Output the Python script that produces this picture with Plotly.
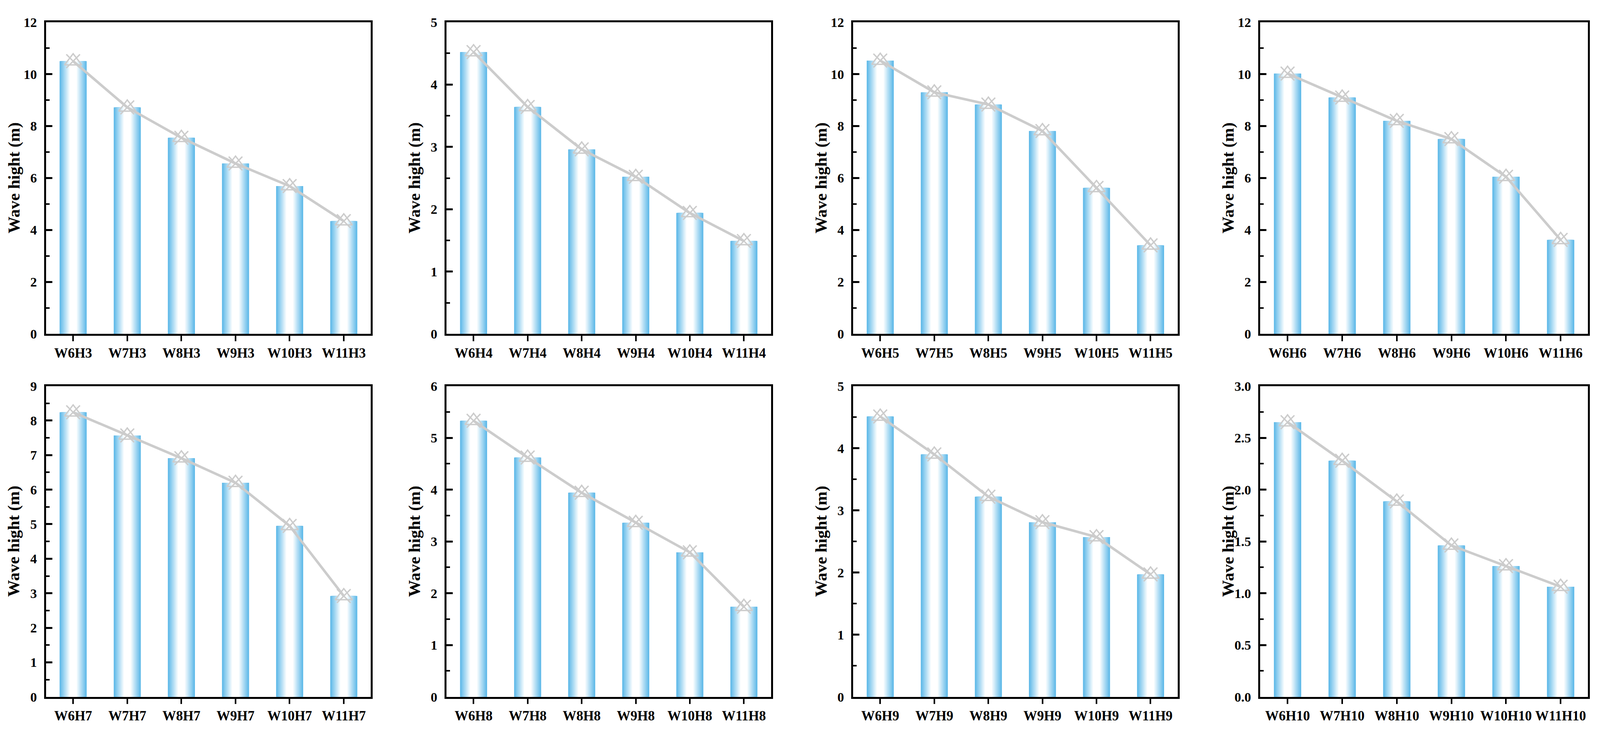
import plotly.graph_objects as go
from plotly.subplots import make_subplots

# ---------------- data ----------------
cats_H3 = ["W6H3", "W7H3", "W8H3", "W9H3", "W10H3", "W11H3"]
cats_H4 = ["W6H4", "W7H4", "W8H4", "W9H4", "W10H4", "W11H4"]
cats_H5 = ["W6H5", "W7H5", "W8H5", "W9H5", "W10H5", "W11H5"]
cats_H6 = ["W6H6", "W7H6", "W8H6", "W9H6", "W10H6", "W11H6"]
cats_H7 = ["W6H7", "W7H7", "W8H7", "W9H7", "W10H7", "W11H7"]
cats_H8 = ["W6H8", "W7H8", "W8H8", "W9H8", "W10H8", "W11H8"]
cats_H9 = ["W6H9", "W7H9", "W8H9", "W9H9", "W10H9", "W11H9"]
cats_H10 = ["W6H10", "W7H10", "W8H10", "W9H10", "W10H10", "W11H10"]

wave_H3 = [10.50, 8.72, 7.55, 6.56, 5.69, 4.34]
wave_H4 = [4.52, 3.64, 2.96, 2.52, 1.94, 1.49]
wave_H5 = [10.52, 9.30, 8.83, 7.81, 5.62, 3.41]
wave_H6 = [10.02, 9.10, 8.20, 7.50, 6.05, 3.62]
wave_H7 = [8.24, 7.57, 6.91, 6.20, 4.95, 2.92]
wave_H8 = [5.33, 4.62, 3.94, 3.36, 2.79, 1.74]
wave_H9 = [4.51, 3.90, 3.22, 2.81, 2.57, 1.97]
wave_H10 = [2.651, 2.279, 1.886, 1.461, 1.262, 1.063]

y_max = [12, 5, 12, 12, 9, 6, 5, 3.0]
y_dtick = [2, 1, 2, 2, 1, 1, 1, 0.5]
y_format = ["d", "d", "d", "d", "d", "d", "d", ".1f"]

y_title = "Wave hight (m)"

panels = [
    (cats_H3, wave_H3), (cats_H4, wave_H4), (cats_H5, wave_H5), (cats_H6, wave_H6),
    (cats_H7, wave_H7), (cats_H8, wave_H8), (cats_H9, wave_H9), (cats_H10, wave_H10),
]

# ---------------- style ----------------
W, H = 4375, 1888
FONT = "Liberation Serif"
BLUE = (92, 184, 232)
GREY = "#CCCCCC"
x_edges = [(126, 1014), (1221, 2108), (2333, 3220), (3446, 4342)]
y_edges = [(39.5, 853), (989, 1800)]

fig = make_subplots(rows=2, cols=4)

N_LAYERS = 26
BAR_W = 0.5


def blend(f):
    r = int(round(255 + (BLUE[0] - 255) * f))
    g = int(round(255 + (BLUE[1] - 255) * f))
    b = int(round(255 + (BLUE[2] - 255) * f))
    return f"rgb({r},{g},{b})"


for i, (cats, vals) in enumerate(panels):
    row, col = i // 4 + 1, i % 4 + 1
    # gradient bars (overlaid, narrowing, fading to white in the centre)
    for k in range(N_LAYERS + 1):
        t = 1.0 - k / N_LAYERS * 0.85
        f = max(0.0, min(1.0, (t - 0.25) / 0.75)) ** 1.0
        fig.add_trace(
            go.Bar(x=cats, y=vals, width=BAR_W * t, marker=dict(color=blend(f), line=dict(width=0)),
                   showlegend=False, hoverinfo="skip"),
            row=row, col=col)
    fig.add_trace(
        go.Scatter(x=cats, y=vals, mode="lines+markers",
                   line=dict(color=GREY, width=6.5),
                   marker=dict(symbol="triangle-up-open", size=38, color=GREY,
                               line=dict(color=GREY, width=3.5)),
                   showlegend=False, hoverinfo="skip"),
        row=row, col=col)
    fig.add_trace(
        go.Scatter(x=cats, y=vals, mode="markers",
                   marker=dict(symbol="x-thin-open", size=35, color=GREY,
                               line=dict(color=GREY, width=3.5)),
                   showlegend=False, hoverinfo="skip"),
        row=row, col=col)

    xd = x_edges[col - 1]
    yd = y_edges[row - 1]
    xname = "xaxis" if i == 0 else f"xaxis{i+1}"
    yname = "yaxis" if i == 0 else f"yaxis{i+1}"
    fig.update_layout({
        xname: dict(
            domain=[xd[0] / W, xd[1] / W], type="category", range=[-0.5, 5.5],
            showline=True, linewidth=4.5, linecolor="black", mirror=True,
            ticks="outside", ticklen=14, tickwidth=4, tickcolor="black",
            tickfont=dict(family=FONT, size=35, color="black", weight="bold"),
            showgrid=False, zeroline=False, fixedrange=True,
        ),
        yname: dict(
            domain=[1 - yd[1] / H, 1 - yd[0] / H], range=[0, y_max[i]],
            tick0=0, dtick=y_dtick[i], tickformat=y_format[i],
            showline=True, linewidth=4.5, linecolor="black", mirror=True,
            ticks="inside", ticklen=16, tickwidth=4.5, tickcolor="black",
            minor=dict(ticks="inside", ticklen=9, tickwidth=4, tickcolor="black",
                       dtick=y_dtick[i] / 2, tick0=0, showgrid=False),
            ticklabelstandoff=12,
            tickfont=dict(family=FONT, size=34, color="black", weight="bold"),
            showgrid=False, zeroline=False, fixedrange=True,
        ),
    })
    fig.add_annotation(
        x=(xd[0] - 88) / W, y=1 - (yd[0] + yd[1]) / 2 / H, xref="paper", yref="paper",
        text=y_title, textangle=-90, showarrow=False, xanchor="center", yanchor="middle",
        font=dict(family=FONT, size=43, color="black", weight="bold"))

fig.update_layout(
    autosize=True, barmode="overlay",
    margin=dict(l=0, r=0, t=0, b=0),
    paper_bgcolor="white", plot_bgcolor="white",
)

fig.write_html("out.html", default_width="100vw", default_height="100vh",
               config={"displayModeBar": False},
               post_script="document.body.style.margin='0';document.body.style.overflow='hidden';")
